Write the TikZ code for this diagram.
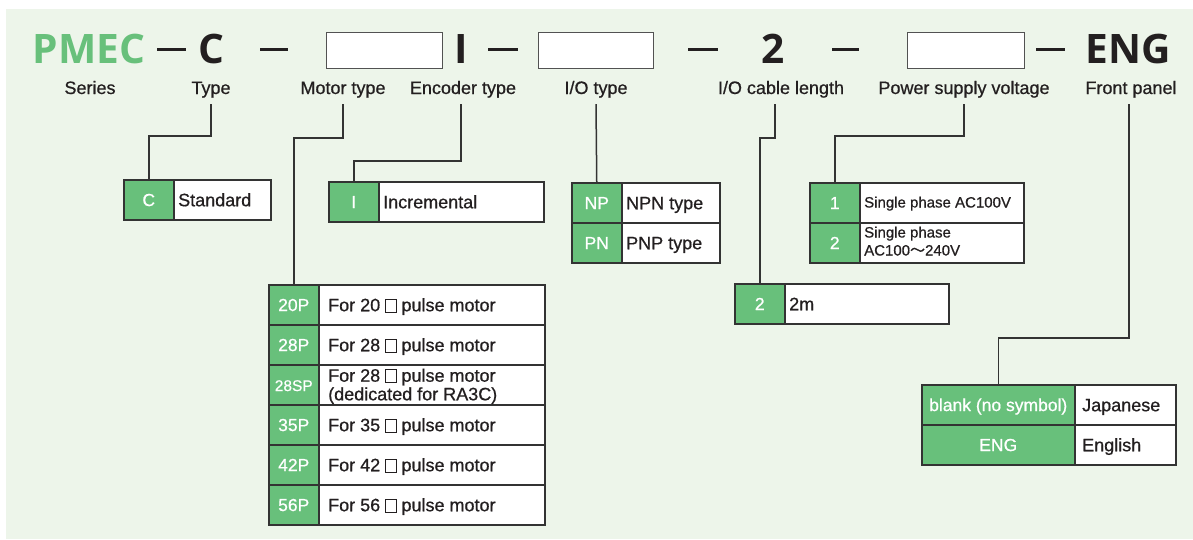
\documentclass[tikz,border=0pt]{standalone}
\usepackage{fontspec}
\setmainfont{Liberation Sans}[FakeBold=0.7]
\newfontfamily\headfont{Open Sans}
\newfontfamily\cjkfont{Noto Sans CJK JP}[FakeBold=0.7]
\usetikzlibrary{calc}
\definecolor{pgreen}{HTML}{68C07B}
\definecolor{bgc}{HTML}{EDF5EA}
\definecolor{ink}{HTML}{231F20}
\definecolor{edge}{HTML}{333333}
\newcommand{\sqbox}{\raisebox{-0.3pt}{\setlength{\fboxsep}{0pt}\setlength{\fboxrule}{0.9pt}\fbox{\rule{0pt}{12pt}\hspace{9.5pt}}}}
\tikzset{
  head/.style={font=\headfont\bfseries\fontsize{40.6}{44}\selectfont, inner sep=0pt, text height=29pt, text depth=0pt, anchor=base},
  lab/.style={font=\fontsize{18}{20}\selectfont, text=ink, inner sep=0pt, text height=13pt, text depth=0pt, anchor=base},
  gcell/.style={draw=edge, line width=1.5pt, fill=pgreen, minimum height=40pt, inner sep=0pt, anchor=north west},
  wcell/.style={draw=edge, line width=1.5pt, fill=white, minimum height=40pt, inner sep=0pt, anchor=north west},
  gtxt/.style={font=\fontsize{17.5}{20}\selectfont, text=white, inner sep=0pt, text height=12.6pt, text depth=0pt},
  wtxt/.style={font=\fontsize{18}{20}\selectfont, text=ink, inner sep=0pt, text height=13pt, text depth=0pt, anchor=west},
  stxt/.style={font=\fontsize{15}{16}\selectfont, text=ink, inner sep=0pt, anchor=base west},
  conn/.style={draw=edge, line width=1.5pt},
  dashln/.style={draw=ink, line width=2.2pt},
  hbox/.style={draw=edge!85, fill=white, line width=1.3pt, inner sep=0pt, anchor=north west, minimum height=36pt}
}
\begin{document}
\begin{tikzpicture}[x=1pt,y=-1pt]
\useasboundingbox (0,0) rectangle (1193,539);
\fill[bgc] (6,9) rectangle (1193,539);

% header
\node[head, text=pgreen] (hPMEC) at (89,63) {PMEC};
\node[head, text=ink] (hC) at (211.5,63) {C};
\node[hbox, minimum width=116pt] (hB1) at (326,32) {};
\node[head, text=ink] (hI) at (461.5,63) {I};
\node[hbox, minimum width=115pt] (hB2) at (538,32) {};
\node[head, text=ink] (h2) at (773,63) {2};
\node[hbox, minimum width=117pt] (hB3) at (907,32) {};
\node[head, text=ink] (hENG) at (1128.5,63) {ENG};
\draw[dashln] (157,49.5) -- (186,49.5);
\draw[dashln] (260,49.5) -- (288,49.5);
\draw[dashln] (488,49.5) -- (518,49.5);
\draw[dashln] (688,49.5) -- (718,49.5);
\draw[dashln] (832,49.5) -- (859,49.5);
\draw[dashln] (1036,49.5) -- (1065,49.5);

% labels
\node[lab] (lSeries) at (90,94) {Series};
\node[lab] (lType) at (211,94) {Type};
\node[lab] (lMotor) at (343,94) {Motor type};
\node[lab] (lEnc) at (463,94) {Encoder type};
\node[lab] (lIO) at (596,94) {I/O type};
\node[lab] (lCable) at (781,94) {I/O cable length};
\node[lab] (lPower) at (964,94) {Power supply voltage};
\node[lab] (lFront) at (1131,94) {Front panel};

% Type table
\node[gcell, minimum width=50pt] (cC) at (123,179) {};
\node[wcell, minimum width=97pt] (wC) at (173,179) {};
\node[gtxt] (cCt) at (cC.center) {C};
\node[wtxt] (wCt) at ([xshift=5pt]wC.west) {Standard};

% Encoder table
\node[gcell, minimum width=50pt] (e1) at (328,181) {};
\node[wcell, minimum width=165pt] (we1) at (378,181) {};
\node[gtxt] (e1t) at (e1.center) {I};
\node[wtxt] (we1t) at ([xshift=5pt]we1.west) {Incremental};

% I/O table
\node[gcell, minimum width=50pt] (io1) at (571,182) {};
\node[wcell, minimum width=98pt] (wio1) at (621,182) {};
\node[gcell, minimum width=50pt] (io2) at (571,222) {};
\node[wcell, minimum width=98pt] (wio2) at (621,222) {};
\node[gtxt] (io1t) at (io1.center) {NP};
\node[gtxt] (io2t) at (io2.center) {PN};
\node[wtxt] (wio1t) at ([xshift=5pt]wio1.west) {NPN type};
\node[wtxt] (wio2t) at ([xshift=5pt]wio2.west) {PNP type};

% Power table
\node[gcell, minimum width=50pt] (p1) at (809,182) {};
\node[wcell, minimum width=164pt] (wp1) at (859,182) {};
\node[gcell, minimum width=50pt] (p2) at (809,222) {};
\node[wcell, minimum width=164pt] (wp2) at (859,222) {};
\node[gtxt] (p1t) at (p1.center) {1};
\node[gtxt] (p2t) at (p2.center) {2};
\node[stxt] (wp1t) at (864,207.5) {Single phase AC100V};
\node[stxt] (wp2a) at (864,237.5) {Single phase};
\node[stxt] (wp2b) at (864,255.5) {AC100{\cjkfont ～}240V};

% Cable table
\node[gcell, minimum width=50pt] (k1) at (734,283) {};
\node[wcell, minimum width=164pt] (wk1) at (784,283) {};
\node[gtxt] (k1t) at (k1.center) {2};
\node[wtxt] (wk1t) at ([xshift=5pt]wk1.west) {2m};

% Motor table
\foreach \i in {1,...,6}{
  \node[gcell, minimum width=50pt] (m\i) at (268,{284+40*(\i-1)}) {};
  \node[wcell, minimum width=226pt] (wm\i) at (318,{284+40*(\i-1)}) {};
}
\node[gtxt] (m1t) at (m1.center) {20P};
\node[gtxt] (m2t) at (m2.center) {28P};
\node[gtxt, font=\fontsize{15.5}{18}\selectfont] (m3t) at (m3.center) {28SP};
\node[gtxt] (m4t) at (m4.center) {35P};
\node[gtxt] (m5t) at (m5.center) {42P};
\node[gtxt] (m6t) at (m6.center) {56P};
\node[wtxt] (wm1t) at ([xshift=10pt]wm1.west) {For 20 \sqbox{} pulse motor};
\node[wtxt] (wm2t) at ([xshift=10pt]wm2.west) {For 28 \sqbox{} pulse motor};
\node[wtxt, anchor=base west] (wm3a) at (328,381.7) {For 28 \sqbox{} pulse motor};
\node[wtxt, anchor=base west] (wm3b) at (328,400.3) {(dedicated for RA3C)};
\node[wtxt] (wm4t) at ([xshift=10pt]wm4.west) {For 35 \sqbox{} pulse motor};
\node[wtxt] (wm5t) at ([xshift=10pt]wm5.west) {For 42 \sqbox{} pulse motor};
\node[wtxt] (wm6t) at ([xshift=10pt]wm6.west) {For 56 \sqbox{} pulse motor};

% Front panel table
\node[gcell, minimum width=153pt] (f1) at (921,384) {};
\node[wcell, minimum width=101pt] (wf1) at (1074,384) {};
\node[gcell, minimum width=153pt] (f2) at (921,424) {};
\node[wcell, minimum width=101pt] (wf2) at (1074,424) {};
\node[gtxt] (f1t) at (f1.center) {blank (no symbol)};
\node[gtxt] (f2t) at (f2.center) {ENG};
\node[wtxt] (wf1t) at ([xshift=8pt]wf1.west) {Japanese};
\node[wtxt] (wf2t) at ([xshift=8pt]wf2.west) {English};

% connectors
\draw[conn] ([yshift=-10pt]lType.south) -- ++(0,32) -| (cC.north);
\draw[conn] ([yshift=-10pt]lMotor.south) -- ++(0,34) -| (m1.north);
\draw[conn] ([xshift=-2pt,yshift=-10pt]lEnc.south) -- ++(0,57) -| (e1.north);
\draw[conn] ([yshift=-10pt]lIO.south) -- (io1.north);
\draw[conn] ([xshift=-6pt,yshift=-10pt]lCable.south) -- ++(0,34) -| (k1.north);
\draw[conn] ([yshift=-10pt]lPower.south) -- ++(0,32) -| (p1.north);
\draw[conn] ([xshift=-2pt,yshift=-10pt]lFront.south) -- ++(0,234) -| (f1.north);
\end{tikzpicture}
\end{document}
